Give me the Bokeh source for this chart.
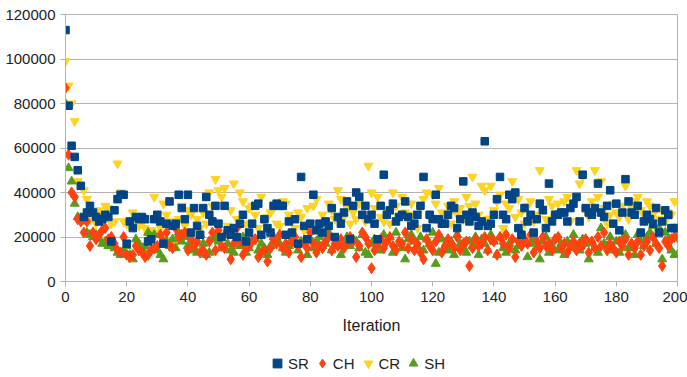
from bokeh.plotting import figure
from bokeh.models import Legend, LegendItem, FixedTicker, Range1d
from bokeh.layouts import column
from bokeh.embed import file_html
from bokeh.resources import INLINE

iterations = list(range(0, 201))

# values in thousands
sr_k = [113, 79, 61, 56, 50, 43, 29, 31, 34, 31, 29, 27, 28, 30, 29, 18, 32, 37, 39, 39,
        17, 27, 24, 29, 28, 29, 28, 18, 19, 28, 30, 27, 17, 26, 36, 25, 26, 39, 33, 28,
        39, 22, 33, 25, 21, 33, 38, 30, 27, 34, 26, 20, 34, 23, 21, 24, 20, 26, 30, 18,
        22, 26, 34, 35, 21, 28, 24, 22, 34, 35, 34, 34, 21, 27, 22, 28, 17, 47, 25, 19,
        26, 39, 23, 26, 22, 27, 25, 33, 20, 29, 26, 31, 36, 19, 34, 40, 38, 30, 34, 28,
        30, 26, 19, 34, 48, 30, 32, 35, 27, 29, 30, 36, 29, 25, 26, 30, 34, 47, 24, 30,
        28, 39, 28, 26, 26, 30, 34, 33, 24, 28, 45, 30, 27, 31, 29, 25, 27, 63, 25, 26,
        30, 37, 47, 30, 28, 39, 37, 40, 24, 21, 33, 27, 30, 22, 28, 35, 32, 24, 44, 27,
        30, 30, 31, 31, 27, 33, 35, 38, 27, 48, 33, 31, 30, 33, 44, 31, 29, 34, 41, 26,
        35, 23, 31, 46, 36, 31, 30, 34, 22, 27, 30, 28, 26, 33, 22, 27, 32, 30, 24, 24, 24]
ch_k = [87, 57, 40, 38, 28, 27, 22, 27, 16, 22, 19, 21, 23, 24, 19, 20, 17, 14, 13, 20,
        12, 11, 12, 16, 14, 13, 11, 12, 14, 15, 16, 21, 18, 22, 16, 15, 24, 20, 21, 22,
        14, 19, 16, 18, 13, 14, 12, 18, 22, 14, 23, 16, 15, 22, 10, 17, 24, 18, 12, 15,
        16, 18, 19, 11, 13, 14, 9, 15, 19, 17, 21, 15, 17, 13, 18, 20, 16, 11, 17, 15,
        22, 17, 13, 16, 15, 18, 20, 14, 17, 16, 19, 15, 17, 20, 18, 11, 16, 22, 20, 17,
        6, 14, 17, 19, 15, 18, 20, 16, 14, 18, 17, 22, 15, 19, 14, 17, 13, 10, 19, 16,
        14, 18, 21, 13, 16, 19, 17, 15, 20, 14, 17, 18, 7, 15, 19, 16, 17, 20, 14, 19,
        18, 12, 20, 17, 21, 15, 19, 11, 18, 16, 19, 17, 21, 13, 18, 15, 20, 16, 17, 14,
        19, 20, 15, 17, 13, 16, 18, 14, 17, 16, 19, 13, 18, 15, 20, 16, 22, 14, 17, 15,
        13, 18, 16, 19, 12, 17, 15, 18, 12, 16, 18, 14, 20, 17, 15, 7, 18, 16, 19, 20, 20]
cr_k = [99, 88, 80, 72, 45, 43, 41, 37, 28, 30, 26, 32, 29, 34, 33, 26, 27, 53, 40, 27,
        26, 25, 31, 28, 25, 26, 24, 21, 23, 38, 22, 24, 35, 30, 18, 27, 17, 28, 34, 25,
        32, 30, 22, 28, 24, 31, 26, 40, 34, 46, 41, 38, 42, 25, 32, 44, 28, 40, 36, 26,
        33, 34, 30, 24, 38, 27, 29, 31, 33, 26, 25, 36, 35, 30, 21, 24, 31, 29, 23, 33,
        26, 34, 37, 22, 30, 27, 35, 32, 28, 41, 37, 29, 33, 26, 31, 28, 35, 30, 27, 52,
        40, 33, 38, 29, 27, 32, 26, 40, 34, 29, 38, 31, 28, 35, 30, 24, 33, 37, 40, 29,
        39, 35, 42, 31, 28, 34, 26, 36, 30, 33, 28, 38, 34, 47, 35, 30, 43, 41, 28, 43,
        32, 36, 39, 24, 35, 33, 45, 29, 37, 31, 26, 34, 36, 27, 30, 50, 33, 28, 37, 34,
        29, 35, 31, 36, 38, 27, 35, 50, 44, 47, 32, 29, 36, 50, 38, 45, 33, 26, 30, 35,
        31, 29, 34, 43, 28, 33, 36, 38, 32, 30, 36, 34, 30, 33, 28, 32, 27, 31, 30, 36, 36]
sh_k = [80, 51, 45, 35, 29, 28, 27, 22, 21, 20, 21, 19, 17, 18, 16, 17, 15, 13, 12, 14,
        16, 12, 10, 19, 17, 15, 16, 22, 20, 21, 14, 12, 10, 18, 16, 19, 15, 22, 18, 20,
        16, 18, 14, 13, 21, 17, 12, 13, 19, 20, 18, 15, 21, 17, 14, 13, 19, 16, 20, 13,
        15, 18, 19, 14, 17, 15, 12, 16, 20, 18, 17, 15, 13, 16, 19, 17, 14, 18, 17, 12,
        19, 15, 18, 20, 16, 17, 22, 14, 16, 18, 12, 17, 20, 16, 19, 18, 15, 21, 13, 12,
        17, 19, 16, 14, 21, 18, 20, 13, 22, 17, 15, 10, 19, 21, 18, 16, 20, 14, 19, 17,
        22, 8, 13, 19, 16, 14, 18, 12, 21, 17, 15, 13, 18, 16, 20, 12, 19, 17, 14, 21,
        18, 12, 20, 15, 13, 17, 19, 14, 16, 22, 18, 11, 17, 19, 15, 10, 18, 20, 13, 16,
        19, 14, 17, 12, 18, 15, 21, 16, 14, 19, 17, 10, 18, 15, 13, 24, 17, 16, 20, 14,
        18, 13, 19, 21, 15, 17, 12, 21, 18, 16, 20, 22, 25, 17, 24, 10, 22, 19, 14, 12, 12]

sr = [v * 1000 for v in sr_k]
ch = [v * 1000 for v in ch_k]
cr = [v * 1000 for v in cr_k]
sh = [v * 1000 for v in sh_k]

series_names = ["SR", "CH", "CR", "SH"]
x_ticks = [0, 20, 40, 60, 80, 100, 120, 140, 160, 180, 200]
y_ticks = [0, 20000, 40000, 60000, 80000, 100000, 120000]

FONT = "Liberation Sans"
GRID = "#b3b3b3"
TXT = "#222222"
STYLE = {
    "SR": dict(marker="square", size=7.5, color="#004586"),
    "CH": dict(marker="diamond", size=11, color="#ff420e"),
    "CR": dict(marker="inverted_triangle", size=9, color="#ffd320"),
    "SH": dict(marker="triangle", size=9, color="#579d1c"),
}
DATA = {"SR": sr, "CH": ch, "CR": cr, "SH": sh}

p = figure(width=687, height=345, output_backend="svg", toolbar_location=None,
           x_range=Range1d(0, 200), y_range=Range1d(0, 120000),
           min_border_left=65, min_border_top=14, min_border_right=10, min_border_bottom=64)
p.background_fill_color = "white"
p.border_fill_color = "white"
p.outline_line_color = GRID

for name in ["CR", "SH", "CH", "SR"]:
    p.scatter(iterations, DATA[name], **STYLE[name])

p.xgrid.grid_line_color = None
p.ygrid.grid_line_color = GRID
p.xaxis.ticker = FixedTicker(ticks=x_ticks)
p.yaxis.ticker = FixedTicker(ticks=y_ticks)
p.yaxis.formatter.use_scientific = False
for ax in (p.xaxis[0], p.yaxis[0]):
    ax.axis_line_color = GRID
    ax.major_tick_line_color = GRID
    ax.major_tick_out = 5
    ax.major_tick_in = 0
    ax.minor_tick_line_color = None
    ax.major_label_text_font = FONT
    ax.major_label_text_font_size = "15px"
    ax.major_label_text_color = TXT
p.xaxis.axis_label = "Iteration"
p.xaxis.axis_label_text_font = FONT
p.xaxis.axis_label_text_font_size = "16px"
p.xaxis.axis_label_text_font_style = "normal"
p.xaxis.axis_label_text_color = TXT
p.xaxis.axis_label_standoff = 12

# legend strip below the chart (its proxy points lie outside its visible range)
q = figure(width=687, height=32, output_backend="svg", toolbar_location=None,
           x_range=Range1d(-2, -1), y_range=Range1d(-2, -1),
           min_border_left=0, min_border_right=0, min_border_top=0, min_border_bottom=0)
q.axis.visible = False
q.grid.visible = False
q.outline_line_color = None
q.background_fill_color = "white"
q.border_fill_color = "white"
items = []
for name in series_names:
    r = q.scatter(x=iterations[:1], y=DATA[name][:1], **STYLE[name])
    items.append(LegendItem(label=name, renderers=[r]))
legend = Legend(items=items, orientation="horizontal", location=(201, 3))
legend.label_text_font = FONT
legend.label_text_font_size = "15px"
legend.label_text_color = TXT
legend.border_line_alpha = 0
legend.background_fill_alpha = 0
legend.glyph_width = 22
legend.glyph_height = 22
legend.label_standoff = 0
legend.spacing = 2
legend.padding = 0
legend.margin = 0
q.add_layout(legend, "center")

layout = column(p, q, spacing=0)
open("out.html", "w").write(file_html(layout, INLINE))
